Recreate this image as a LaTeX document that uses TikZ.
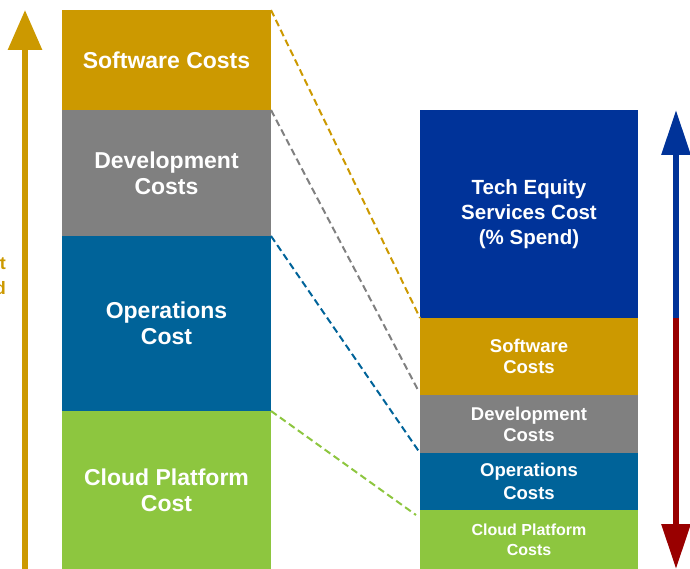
\documentclass[tikz,border=0pt]{standalone}
\usepackage{fontspec}
\setmainfont{Liberation Sans}
\usetikzlibrary{arrows.meta}
\definecolor{cgold}{HTML}{CC9900}
\definecolor{cgray}{HTML}{808080}
\definecolor{cblue}{HTML}{006399}
\definecolor{cdblue}{HTML}{003399}
\definecolor{cgreen}{HTML}{8DC63F}
\definecolor{cred}{HTML}{990000}
\tikzset{
  box/.style={inner sep=0pt, outer sep=0pt, text=white, font=\bfseries, align=center},
  bigtxt/.style={font=\fontsize{23}{26}\selectfont\bfseries},
  smtxt/.style={font=\fontsize{18.5}{21}\selectfont\bfseries},
  link/.style={line width=2pt, dash pattern=on 7pt off 4pt},
}
\begin{document}
\begin{tikzpicture}[x=1pt,y=-1pt]
\useasboundingbox (0,0) rectangle (690,569);
% left column
\node[box,bigtxt,fill=cgold,minimum width=209pt,minimum height=100pt] (ls) at (166.5,60) {Software Costs};
\node[box,bigtxt,fill=cgray,minimum width=209pt,minimum height=126pt] (ld) at (166.5,173) {Development\\Costs};
\node[box,bigtxt,fill=cblue,minimum width=209pt,minimum height=175pt] (lo) at (166.5,323.5) {\raisebox{-4pt}{\parbox{200pt}{\centering Operations\\Cost}}};
\node[box,bigtxt,fill=cgreen,minimum width=209pt,minimum height=158pt] (lc) at (166.5,490) {Cloud Platform\\Cost};
% right column
\node[box,font=\fontsize{20.5}{25}\selectfont\bfseries,fill=cdblue,minimum width=218pt,minimum height=208pt] (rt) at (529,214) {Tech Equity\\Services Cost\\(\% Spend)};
\node[box,smtxt,fill=cgold,minimum width=218pt,minimum height=77pt] (rs) at (529,356.5) {Software\\Costs};
\node[box,smtxt,fill=cgray,minimum width=218pt,minimum height=58pt] (rd) at (529,424) {Development\\Costs};
\node[box,font=\fontsize{18.5}{23}\selectfont\bfseries,fill=cblue,minimum width=218pt,minimum height=57pt] (ro) at (529,481.5) {Operations\\Costs};
\node[box,font=\fontsize{16}{20}\selectfont\bfseries,fill=cgreen,minimum width=218pt,minimum height=59pt] (rc) at (529,539.5) {Cloud Platform\\Costs};
% links
\draw[link,cgold] (ls.north east) -- (rs.north west);
\draw[link,cgray] (ld.north east) -- ([xshift=-2pt,yshift=5pt]rd.north west);
\draw[link,cblue] (lo.north east) -- (ro.north west);
\draw[link,cgreen] (lc.north east) -- ([xshift=-4pt,yshift=-5pt]rc.north west);
% left arrow
\coordinate (la0) at (25,569);
\coordinate (la1) at (25,10);
\draw[cgold,line width=6pt,-{Triangle[width=33pt,length=40pt]}] (la0) -- (la1);
\node[text=cgold,font=\fontsize{18}{25}\selectfont\bfseries,align=right,anchor=east,inner sep=0pt] (lt) at (6,278) {Cost\\Spend};
% right arrow
\coordinate (ra0) at (676,318);
\coordinate (ra1) at (676,110);
\coordinate (ra2) at (676,569);
\draw[cdblue,line width=6pt,-{Triangle[width=28pt,length=45pt]}] (ra0) -- (ra1);
\draw[cred,line width=6pt,-{Triangle[width=28pt,length=45pt]}] (ra0) -- (ra2);
\end{tikzpicture}
\end{document}
